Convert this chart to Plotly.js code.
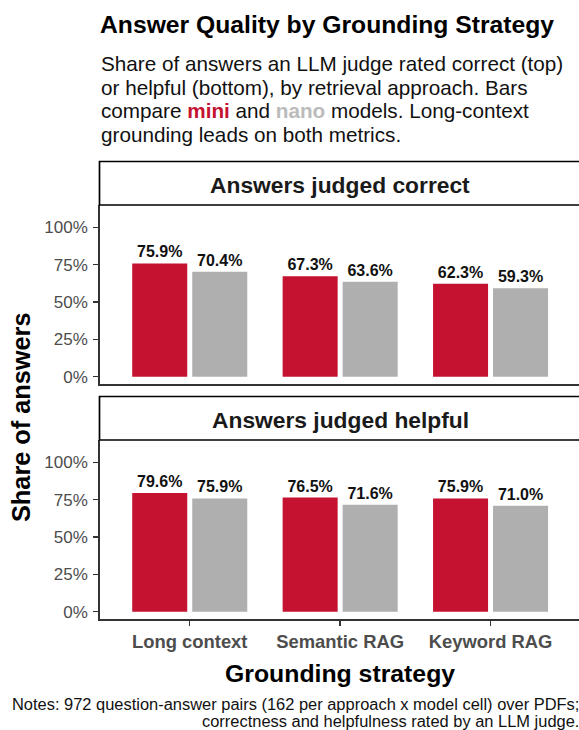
<!DOCTYPE html>
<html>
<head>
<meta charset="utf-8">
<script src="https://cdn.plot.ly/plotly-3.0.1.min.js"></script>
<style>html,body{margin:0;padding:0;background:#fff}#chart{width:579px;height:730px}</style>
</head>
<body>
<div id="chart"></div>
<script>
// ---- data ----
const strategies = ['Long context', 'Semantic RAG', 'Keyword RAG'];
const models = ['mini', 'nano'];
const correctMini = [75.9, 67.3, 62.3];
const correctNano = [70.4, 63.6, 59.3];
const helpfulMini = [79.6, 76.5, 75.9];
const helpfulNano = [75.9, 71.6, 71.0];
const panelTitles = ['Answers judged correct', 'Answers judged helpful'];
const yTickVals = [0, 25, 50, 75, 100];
const yTickText = ['0%', '25%', '50%', '75%', '100%'];

// ---- style ----
const W = 579, H = 730;
const FONT = 'Liberation Sans, Arial, Helvetica, sans-serif';
const RED = '#C41230', GRAY = '#AFAFAF';
const px = v => v / W;
const py = v => 1 - v / H;

const xDom = [px(99.5), 1];
const yDom1 = [py(384.3), py(205)];
const yDom2 = [py(619.3), py(440)];

function barTrace(vals, name, color, xa, ya) {
  return {
    type: 'bar', x: strategies, y: vals, name: name,
    xaxis: xa, yaxis: ya,
    marker: {color: color, line: {width: 0}},
    texttemplate: '<b>%{y:.1f}%</b>',
    textposition: 'outside',
    textfont: {family: FONT, size: 16, color: '#111111'},
    constraintext: 'none',
    cliponaxis: false,
    hoverinfo: 'skip',
    showlegend: false
  };
}

const data = [
  barTrace(correctMini, models[0], RED, 'x', 'y'),
  barTrace(correctNano, models[1], GRAY, 'x', 'y'),
  barTrace(helpfulMini, models[0], RED, 'x2', 'y2'),
  barTrace(helpfulNano, models[1], GRAY, 'x2', 'y2')
];

const axisLine = {showline: true, linecolor: '#333333', linewidth: 1.3, showgrid: false, zeroline: false, fixedrange: true};
const xBase = Object.assign({}, axisLine, {domain: xDom, range: [-0.6, 2.588], type: 'category'});
const yBase = Object.assign({}, axisLine, {
  range: [-5, 115], tickvals: yTickVals, ticktext: yTickText,
  ticks: 'outside', ticklen: 5, tickwidth: 1.3, tickcolor: '#333333', ticklabelstandoff: 2,
  tickfont: {family: FONT, size: 17, color: '#4D4D4D'}
});

const layout = {
  width: W, height: H,
  margin: {l: 0, r: 0, t: 0, b: 0},
  paper_bgcolor: '#ffffff', plot_bgcolor: '#ffffff',
  font: {family: FONT},
  barmode: 'group', bargap: 0.202, bargroupgap: 0.0833,
  showlegend: false,
  xaxis: Object.assign({}, xBase, {anchor: 'y', ticks: '', showticklabels: false}),
  xaxis2: Object.assign({}, xBase, {
    anchor: 'y2', ticks: 'outside', ticklen: 5, tickwidth: 1.3, tickcolor: '#333333',
    tickvals: strategies, ticktext: strategies.map(s => '<b>' + s + '</b>'),
    tickfont: {family: FONT, size: 18.4, color: '#4D4D4D'}
  }),
  yaxis: Object.assign({}, yBase, {domain: yDom1, anchor: 'x'}),
  yaxis2: Object.assign({}, yBase, {domain: yDom2, anchor: 'x2'}),
  shapes: [
    {type: 'rect', xref: 'paper', yref: 'paper', x0: px(99.5), x1: 1.05, y0: py(205), y1: py(161.5),
     fillcolor: '#ffffff', line: {color: '#000000', width: 1.7}},
    {type: 'rect', xref: 'paper', yref: 'paper', x0: px(99.5), x1: 1.05, y0: py(440), y1: py(396.5),
     fillcolor: '#ffffff', line: {color: '#000000', width: 1.7}}
  ],
  annotations: [
    {text: '<b>Answer Quality by Grounding Strategy</b>', x: px(97.5), y: py(24.9), xanchor: 'left', yanchor: 'middle',
     font: {size: 24.7, color: '#000000'}},
    {text: 'Share of answers an LLM judge rated correct (top)', x: px(98.7), y: py(63.8), xanchor: 'left', yanchor: 'middle',
     font: {size: 20.7, color: '#111111'}},
    {text: 'or helpful (bottom), by retrieval approach. Bars', x: px(98.7), y: py(87.2), xanchor: 'left', yanchor: 'middle',
     font: {size: 20.7, color: '#111111'}},
    {text: 'compare <b><span style="color:' + RED + '">mini</span></b> and <b><span style="color:#BBBBBB">nano</span></b> models. Long-context',
     x: px(98.7), y: py(110.6), xanchor: 'left', yanchor: 'middle', font: {size: 20.7, color: '#111111'}},
    {text: 'grounding leads on both metrics.', x: px(98.7), y: py(134), xanchor: 'left', yanchor: 'middle',
     font: {size: 20.7, color: '#111111'}},
    {text: '<b>' + panelTitles[0] + '</b>', x: px(340), y: py(184.6), xanchor: 'center', yanchor: 'middle',
     font: {size: 22.8, color: '#1A1A1A'}},
    {text: '<b>' + panelTitles[1] + '</b>', x: px(340), y: py(419.6), xanchor: 'center', yanchor: 'middle',
     font: {size: 22.8, color: '#1A1A1A'}},
    {text: '<b>Share of answers</b>', x: px(21), y: py(417), xanchor: 'center', yanchor: 'middle', textangle: -90,
     font: {size: 25.3, color: '#000000'}},
    {text: '<b>Grounding strategy</b>', x: px(340), y: py(673.3), xanchor: 'center', yanchor: 'middle',
     font: {size: 24.8, color: '#000000'}},
    {text: 'Notes: 972 question-answer pairs (162 per approach x model cell) over PDFs;', x: px(580.5), y: py(704.4),
     xanchor: 'right', yanchor: 'middle', font: {size: 16.45, color: '#111111'}},
    {text: 'correctness and helpfulness rated by an LLM judge.', x: px(580.5), y: py(721.4),
     xanchor: 'right', yanchor: 'middle', font: {size: 16.45, color: '#111111'}}
  ].map(a => Object.assign({xref: 'paper', yref: 'paper', showarrow: false}, a))
};

Plotly.newPlot('chart', data, layout, {displayModeBar: false, staticPlot: true});
</script>
</body>
</html>
